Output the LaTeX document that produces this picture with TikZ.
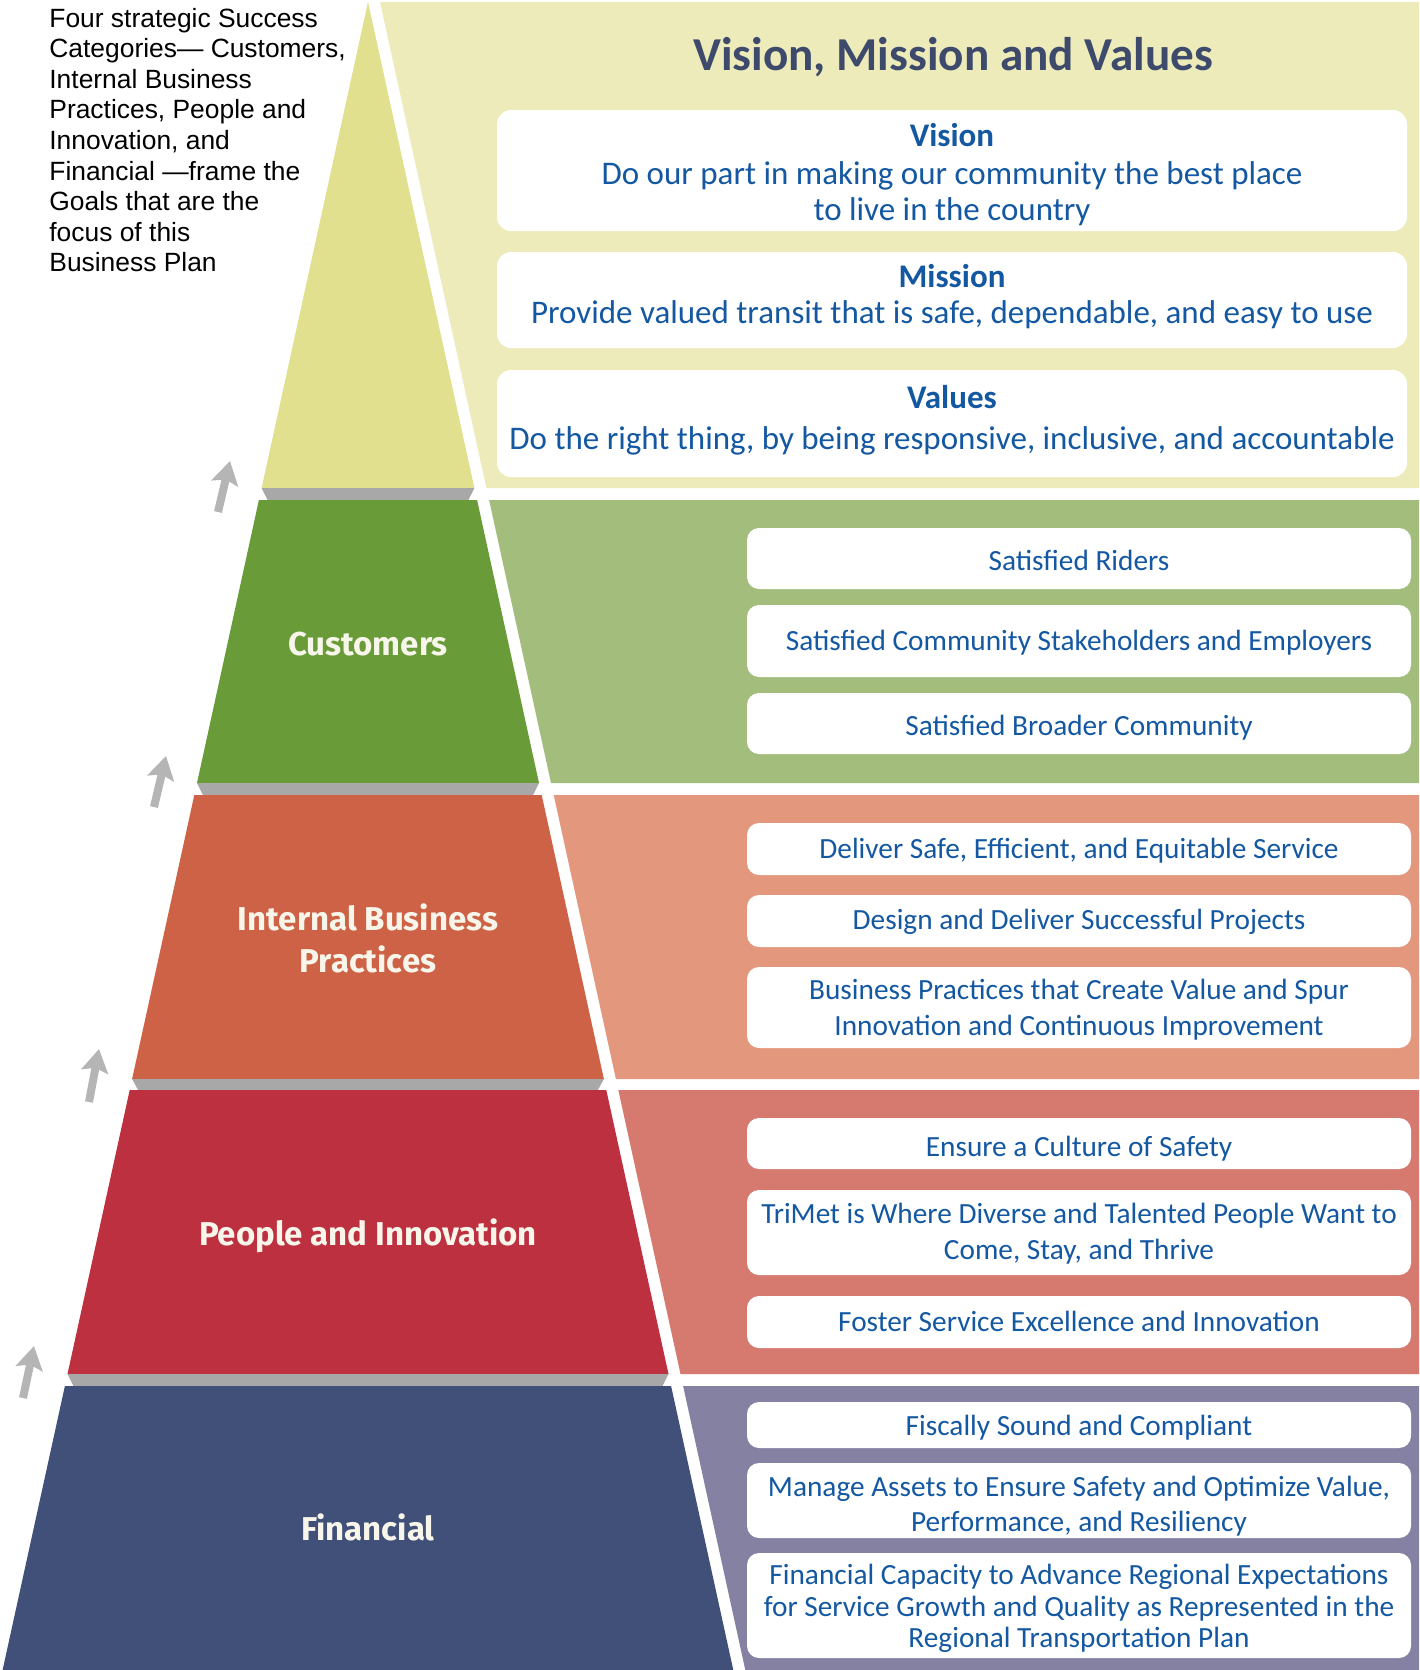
\documentclass[tikz,border=0pt]{standalone}
\usepackage{fontspec}
\setmainfont{Carlito}
\newfontfamily\arialf{Liberation Sans}
\newfontfamily\metaf{Fira Sans}
\usetikzlibrary{arrows.meta}
\definecolor{tyellow}{HTML}{E0E08F}
\definecolor{pyellow}{HTML}{EDEBB9}
\definecolor{tgreen}{HTML}{699B39}
\definecolor{pgreen}{HTML}{A3BD7C}
\definecolor{torange}{HTML}{CD6246}
\definecolor{porange}{HTML}{E3977C}
\definecolor{tred}{HTML}{BD3040}
\definecolor{pred}{HTML}{D67A6F}
\definecolor{tnavy}{HTML}{415078}
\definecolor{pnavy}{HTML}{8581A2}
\definecolor{bevelgray}{HTML}{A8A8A8}
\definecolor{txtblue}{HTML}{1458A2}
\definecolor{titleblue}{HTML}{3D4A6B}
\definecolor{arrowgray}{HTML}{B5B5B5}
\definecolor{labelwhite}{HTML}{F8F6EA}
\begin{document}
\begin{tikzpicture}[x=0.5pt,y=-0.5pt,
  goalbox/.style={fill=white, rounded corners=6pt, inner sep=0pt, minimum width=332pt},
  goaltext/.style={inner sep=0pt, align=center, text=txtblue, font=\fontsize{14.65pt}{18pt}\selectfont},
  vmvbox/.style={fill=white, rounded corners=7pt, inner sep=0pt, minimum width=455pt},
  vmvtext/.style={inner sep=0pt, align=center, text=txtblue, font=\fontsize{16.5pt}{18pt}\selectfont},
  tierlabel/.style={inner sep=0pt, align=center, text=labelwhite, font=\metaf\bfseries\fontsize{16.5pt}{21pt}\selectfont},
  garrow/.style={draw=arrowgray, line width=4pt, -{Stealth[length=11.5pt,width=13.5pt,inset=2pt]}}
]
\path[use as bounding box] (0,0) rectangle (1419,1670);

% right panels
\fill[pyellow] (380,2) -- (1419,2) -- (1419,488) -- (486.4,488) -- cycle;
\fill[pgreen] (489.1,500) -- (1419,500) -- (1419,783) -- (551,783) -- cycle;
\fill[porange] (553.7,795) -- (1419,795) -- (1419,1079) -- (615.9,1079) -- cycle;
\fill[pred] (618.3,1090) -- (1419,1090) -- (1419,1374) -- (680.5,1374) -- cycle;
\fill[pnavy] (683.1,1386) -- (1419,1386) -- (1419,1670) -- (745.3,1670) -- cycle;

% pyramid tiers
\fill[tyellow] (368,2) -- (474.4,488) -- (261.6,488) -- cycle;
\fill[bevelgray] (261.6,488) -- (474.4,488) -- (468.4,500) -- (267.6,500) -- cycle;
\fill[tgreen] (258.9,500) -- (477.1,500) -- (539,783) -- (197,783) -- cycle;
\fill[bevelgray] (197,783) -- (539,783) -- (533,795) -- (203,795) -- cycle;
\fill[torange] (194.3,795) -- (541.7,795) -- (603.9,1079) -- (132.1,1079) -- cycle;
\fill[bevelgray] (132.1,1079) -- (603.9,1079) -- (597.9,1090) -- (138.1,1090) -- cycle;
\fill[tred] (129.7,1090) -- (606.3,1090) -- (668.5,1374) -- (67.5,1374) -- cycle;
\fill[bevelgray] (67.5,1374) -- (668.5,1374) -- (662.5,1386) -- (73.5,1386) -- cycle;
\fill[tnavy] (64.9,1386) -- (671.1,1386) -- (733.3,1670) -- (2.6,1670) -- cycle;

% tier labels
\node[tierlabel] (lcust) at (368,644) {Customers};
\node[tierlabel] (libp) at (368,938) {Internal Business\\Practices};
\node[tierlabel] (lpeople) at (368,1236) {People and Innovation};
\node[tierlabel] (lfin) at (368,1527) {Financial};

% intro text
\node[anchor=north west, inner sep=0pt, align=left,
      font=\arialf\fontsize{13.2pt}{15.3pt}\selectfont] (intro) at (49,7.5)
 {Four strategic Success\\Categories— Customers,\\Internal Business\\Practices, People and\\Innovation, and\\Financial —frame the\\Goals that are the\\focus of this\\Business Plan};

% arrows
\coordinate (a1s) at (218,512); \coordinate (a1e) at (230,461);
\coordinate (a2s) at (154,807); \coordinate (a2e) at (166,756);
\coordinate (a3s) at (89,1102); \coordinate (a3e) at (99,1049);
\coordinate (a4s) at (23,1398); \coordinate (a4e) at (34,1346);
\draw[garrow] (a1s) -- (a1e);
\draw[garrow] (a2s) -- (a2e);
\draw[garrow] (a3s) -- (a3e);
\draw[garrow] (a4s) -- (a4e);

% title
\node[inner sep=0pt, text=titleblue, font=\bfseries\fontsize{23.6pt}{26pt}\selectfont] (title) at (953,57) {Vision, Mission and Values};

% vision / mission / values
\node[vmvbox, minimum height=60.5pt] (vis) at (952,170.5) {};
\node[vmvtext] (vist) at (952,175) {\textbf{Vision}\\[1pt]Do our part in making our community the best place\\to live in the country};
\node[vmvbox, minimum height=48pt] (mis) at (952,300) {};
\node[vmvtext] (mist) at (952,297) {\textbf{Mission}\\Provide valued transit that is safe, dependable, and easy to use};
\node[vmvbox, minimum height=53.5pt] (val) at (952,423.5) {};
\node[vmvtext] (valt) at (952,420.5) {\textbf{Values}\\[2.5pt]Do the right thing, by being responsive, inclusive, and accountable};

% customers goals
\node[goalbox, minimum height=30.5pt] (g1) at (1079,558.5) {};
\node[goaltext, yshift=-1pt] (g1t) at (g1) {Satisfied Riders};
\node[goalbox, minimum height=36pt] (g2) at (1079,641) {};
\node[goaltext, yshift=-1pt] (g2t) at (g2) {Satisfied Community Stakeholders and Employers};
\node[goalbox, minimum height=30.5pt] (g3) at (1079,723.5) {};
\node[goaltext, yshift=-2pt] (g3t) at (g3) {Satisfied Broader Community};

% internal business practices goals
\node[goalbox, minimum height=26pt] (o1) at (1079,849) {};
\node[goaltext, yshift=-1pt] (o1t) at (o1) {Deliver Safe, Efficient, and Equitable Service};
\node[goalbox, minimum height=26pt] (o2) at (1079,921) {};
\node[goaltext, yshift=-0.5pt] (o2t) at (o2) {Design and Deliver Successful Projects};
\node[goalbox, minimum height=40.5pt] (o3) at (1079,1007.5) {};
\node[goaltext, yshift=-1pt] (o3t) at (o3) {Business Practices that Create Value and Spur\\Innovation and Continuous Improvement};

% people and innovation goals
\node[goalbox, minimum height=25.5pt] (r1) at (1079,1143.5) {};
\node[goaltext, yshift=-2.5pt] (r1t) at (r1) {Ensure a Culture of Safety};
\node[goalbox, minimum height=42.5pt] (r2) at (1079,1232.5) {};
\node[goaltext, yshift=-0.5pt] (r2t) at (r2) {TriMet is Where Diverse and Talented People Want to\\Come, Stay, and Thrive};
\node[goalbox, minimum height=26pt] (r3) at (1079,1322) {};
\node[goaltext, yshift=0.5pt] (r3t) at (r3) {Foster Service Excellence and Innovation};

% financial goals
\node[goalbox, minimum height=23pt] (n1) at (1079,1425) {};
\node[goaltext, yshift=-1.5pt] (n1t) at (n1) {Fiscally Sound and Compliant};
\node[goalbox, minimum height=37.5pt] (n2) at (1079,1500.5) {};
\node[goaltext, yshift=-2.8pt, font=\fontsize{14.65pt}{17.5pt}\selectfont] (n2t) at (n2) {Manage Assets to Ensure Safety and Optimize Value,\\Performance, and Resiliency};
\node[goalbox, minimum height=52.5pt] (n3) at (1079,1605.5) {};
\node[goaltext, yshift=-1.5pt, font=\fontsize{14.65pt}{15.75pt}\selectfont] (n3t) at (n3) {Financial Capacity to Advance Regional Expectations\\for Service Growth and Quality as Represented in the\\Regional Transportation Plan};
\end{tikzpicture}
\end{document}
